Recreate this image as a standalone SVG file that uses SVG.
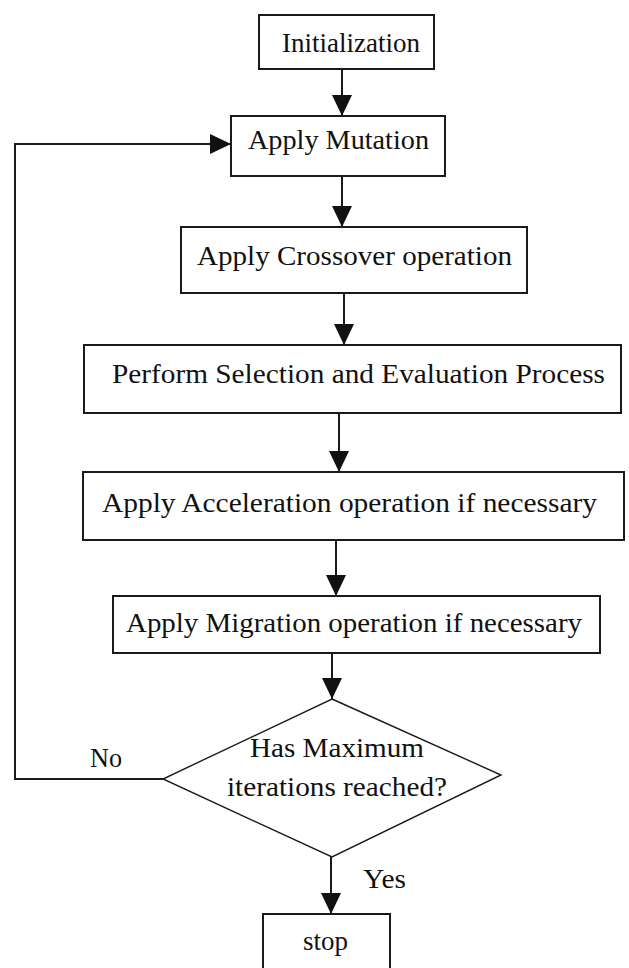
<svg xmlns="http://www.w3.org/2000/svg" width="629" height="968" viewBox="0 0 629 968">
<defs>
<style>
.box{fill:#fff;stroke:#1a1a1a;stroke-width:2}
.dia{fill:#fff;stroke:#1a1a1a;stroke-width:1.4}
.t{font-family:"Liberation Serif","Times New Roman",serif;font-size:27px;fill:#111}
.c{fill:none;stroke:#1a1a1a;stroke-width:2}
</style>
<marker id="ah" markerUnits="userSpaceOnUse" markerWidth="22" markerHeight="20" refX="21" refY="10" orient="auto">
<path d="M0,0 L21,10 L0,20 Z" fill="#111"/>
</marker>
</defs>
<rect width="629" height="968" fill="#fff"/>
<g id="connectors">
<line class="c" x1="342" y1="69" x2="342" y2="116" marker-end="url(#ah)"/>
<line class="c" x1="342" y1="176" x2="342" y2="227" marker-end="url(#ah)"/>
<line class="c" x1="344" y1="293" x2="344" y2="345" marker-end="url(#ah)"/>
<line class="c" x1="339" y1="413" x2="339" y2="472" marker-end="url(#ah)"/>
<line class="c" x1="336" y1="540" x2="336" y2="596" marker-end="url(#ah)"/>
<line class="c" x1="332" y1="653" x2="332" y2="699" marker-end="url(#ah)"/>
<line class="c" x1="331" y1="857" x2="331" y2="914" marker-end="url(#ah)"/>
<polyline class="c" points="163,779 15,779 15,144 231,144" marker-end="url(#ah)"/>
<text class="t" x="90" y="767" textLength="32" lengthAdjust="spacingAndGlyphs">No</text>
<text class="t" x="363" y="888" textLength="43" lengthAdjust="spacingAndGlyphs">Yes</text>
</g>
<g id="init">
<rect class="box" x="259" y="15" width="175" height="54"/>
<text class="t" x="282" y="52" textLength="138" lengthAdjust="spacingAndGlyphs">Initialization</text>
</g>
<g id="mutation">
<rect class="box" x="231" y="116" width="214" height="60"/>
<text class="t" x="248" y="149" textLength="181" lengthAdjust="spacingAndGlyphs">Apply Mutation</text>
</g>
<g id="crossover">
<rect class="box" x="181" y="227" width="346" height="66"/>
<text class="t" x="197" y="265" textLength="315" lengthAdjust="spacingAndGlyphs">Apply Crossover operation</text>
</g>
<g id="selection">
<rect class="box" x="84" y="345" width="537" height="68"/>
<text class="t" x="112" y="383" textLength="493" lengthAdjust="spacingAndGlyphs">Perform Selection and Evaluation Process</text>
</g>
<g id="acceleration">
<rect class="box" x="83" y="472" width="541" height="68"/>
<text class="t" x="102" y="512" textLength="495" lengthAdjust="spacingAndGlyphs">Apply Acceleration operation if necessary</text>
</g>
<g id="migration">
<rect class="box" x="113" y="596" width="487" height="57"/>
<text class="t" x="126" y="632" textLength="456" lengthAdjust="spacingAndGlyphs">Apply Migration operation if necessary</text>
</g>
<g id="decision">
<polygon class="dia" points="332,699 501,775 332,857 163,779"/>
<text class="t" x="250" y="757" textLength="174" lengthAdjust="spacingAndGlyphs">Has Maximum</text>
<text class="t" x="227" y="796" textLength="220" lengthAdjust="spacingAndGlyphs">iterations reached?</text>
</g>
<g id="stop">
<rect class="box" x="263" y="914" width="127" height="70"/>
<text class="t" x="303" y="950" textLength="45" lengthAdjust="spacingAndGlyphs">stop</text>
</g>
</svg>
